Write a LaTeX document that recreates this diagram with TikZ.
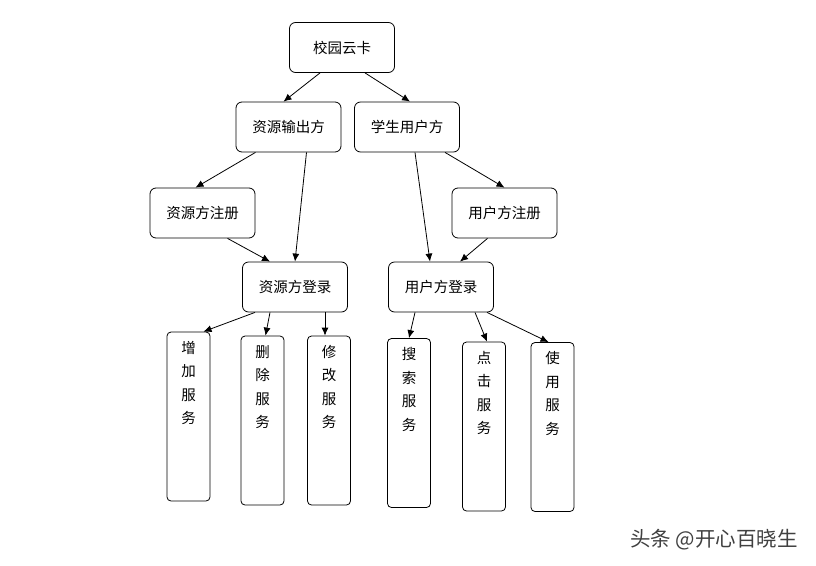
\documentclass[tikz,border=0pt]{standalone}
\usepackage{fontspec}
\newfontfamily\cjk{Noto Sans CJK SC}
\usetikzlibrary{arrows.meta}
\begin{document}
\begin{tikzpicture}[x=1pt,y=-1pt,
  box/.style={draw,thick,rounded corners=6pt,minimum width=105pt,minimum height=50pt,inner sep=0pt,font=\cjk\fontsize{14.5}{16}\selectfont},
  vbox/.style={draw,thick,rounded corners=4pt,minimum width=43pt,minimum height=169pt,inner sep=0pt},
  vlab/.style={font=\cjk\fontsize{14.5}{23.5}\selectfont,align=center,anchor=north},
  arr/.style={-{Latex[length=8pt,width=7pt]},thick}]
\useasboundingbox (0,0) rectangle (816,565);
\node[box] (a) at (342,47.5) {校园云卡};
\node[box] (b) at (288.5,127) {资源输出方};
\node[box] (c) at (407,127) {学生用户方};
\node[box] (d) at (202.5,213) {资源方注册};
\node[box] (e) at (504.5,213) {用户方注册};
\node[box] (f) at (295,287) {资源方登录};
\node[box] (g) at (441,287) {用户方登录};
\foreach \n/\x/\y/\t in {h1/188.5/416.5/增\\加\\服\\务, h2/262.5/420.5/删\\除\\服\\务, h3/329/420.5/修\\改\\服\\务, h4/409/423/搜\\索\\服\\务, h5/484/426.5/点\\击\\服\\务, h6/552.5/427/使\\用\\服\\务}{
  \node[vbox] (\n) at (\x,\y) {};
  \node[vlab] (\n t) at ([yshift=-6pt]\n.north) {\t};
}
\draw[arr] ([xshift=-22pt]a.south) -- ([xshift=-5pt]b.north);
\draw[arr] ([xshift=23pt]a.south) -- ([xshift=3pt]c.north);
\draw[arr] ([xshift=-33pt]b.south) -- ([xshift=-7pt]d.north);
\draw[arr] ([xshift=18pt]b.south) -- (f.north);
\draw[arr] ([xshift=25pt]d.south) -- ([xshift=-25pt]f.north);
\draw[arr] ([xshift=8pt]c.south) -- ([xshift=-11pt]g.north);
\draw[arr] ([xshift=38pt]c.south) -- (e.north);
\draw[arr] ([xshift=-17pt]e.south) -- ([xshift=19pt]g.north);
\draw[arr] ([xshift=-40pt]f.south) -- ([xshift=15pt]h1.north);
\draw[arr] ([xshift=-25pt]f.south) -- ([xshift=3pt]h2.north);
\draw[arr] ([xshift=30pt]f.south) -- ([xshift=-4pt]h3.north);
\draw[arr] ([xshift=-26pt]g.south) -- (h4.north);
\draw[arr] ([xshift=34pt]g.south) -- ([xshift=3pt]h5.north);
\draw[arr] ([xshift=46pt]g.south) -- ([xshift=-4pt]h6.north);
\node[font=\cjk\fontsize{20.5}{22}\selectfont,text=black!75] (w) at (714,540) {头条 @开心百晓生};
\end{tikzpicture}
\end{document}
